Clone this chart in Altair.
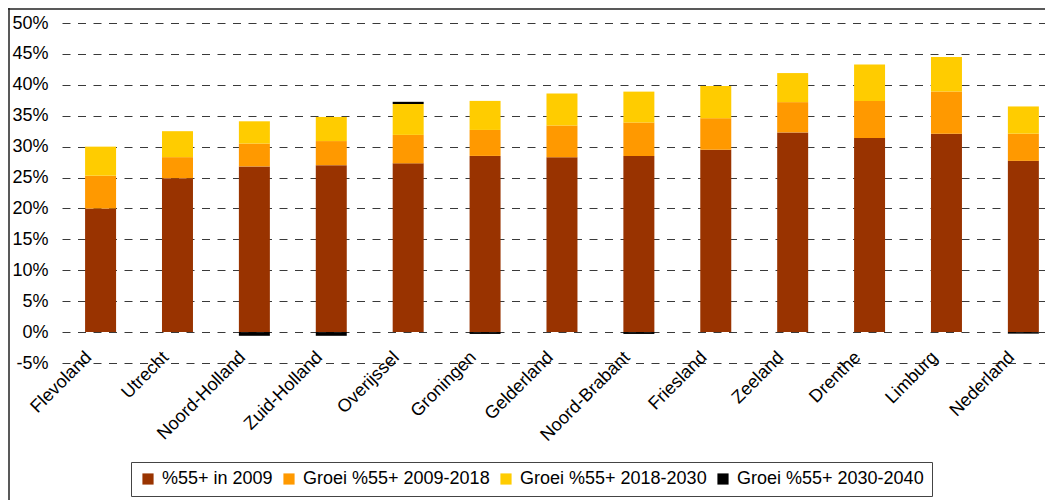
import altair as alt
import pandas as pd

provinces = ["Flevoland", "Utrecht", "Noord-Holland", "Zuid-Holland", "Overijssel",
             "Groningen", "Gelderland", "Noord-Brabant", "Friesland", "Zeeland",
             "Drenthe", "Limburg", "Nederland"]
series = ["%55+ in 2009", "Groei %55+ 2009-2018", "Groei %55+ 2018-2030", "Groei %55+ 2030-2040"]
colors = ["#993300", "#FF9900", "#FFCC00", "#000000"]

share_2009 = [20.0, 24.9, 26.8, 27.0, 27.3, 28.5, 28.3, 28.5, 29.5, 32.3, 31.4, 32.1, 27.7]
growth_2009_2018 = [5.3, 3.4, 3.7, 3.9, 4.6, 4.2, 5.1, 5.4, 5.1, 4.9, 6.0, 6.8, 4.4]
growth_2018_2030 = [4.7, 4.2, 3.6, 3.9, 5.0, 4.7, 5.2, 5.0, 5.2, 4.7, 5.9, 5.6, 4.4]
growth_2030_2040 = [0.0, 0.0, -0.6, -0.6, 0.35, -0.3, 0.0, -0.3, 0.0, 0.0, 0.0, 0.0, -0.25]

y_ticks = [-0.05, 0.0, 0.05, 0.10, 0.15, 0.20, 0.25, 0.30, 0.35, 0.40, 0.45, 0.50]

rows = []
for si, (name, vals) in enumerate(zip(series, [share_2009, growth_2009_2018, growth_2018_2030, growth_2030_2040])):
    for p, v in zip(provinces, vals):
        rows.append({"provincie": p, "reeks": name, "idx": si, "waarde": v / 100.0})
df = pd.DataFrame(rows)

bars = alt.Chart(df).mark_bar().encode(
    x=alt.X("provincie:N", sort=provinces, title=None,
            scale=alt.Scale(paddingInner=0.597, paddingOuter=0.19, align=0.79),
            axis=alt.Axis(labelAngle=-45, labelAlign="right", labelBaseline="alphabetic",
                          labelPadding=26, labelOffset=-8, offset=-31, domain=False, ticks=False,
                          grid=False, labelFontSize=18, labelColor="black", labelLimit=300)),
    y=alt.Y("waarde:Q", stack="zero", title=None,
            scale=alt.Scale(domain=[-0.05, 0.5], nice=False, zero=False),
            axis=alt.Axis(values=y_ticks, labelExpr="round(datum.value*100) + '%'",
                          domain=False, ticks=False, labelPadding=14, labelFontSize=18,
                          labelColor="black", grid=True, gridDash=[8, 7.5],
                          gridColor="#3a3a3a", gridWidth=1)),
    color=alt.Color("reeks:N", sort=series,
                    scale=alt.Scale(domain=series, range=colors),
                    legend=alt.Legend(title=None, orient="none", direction="horizontal",
                                      legendX=69, legendY=439, symbolType="square",
                                      symbolSize=125, symbolStrokeWidth=0, labelOffset=5,
                                      columnPadding=7, padding=8, labelFontSize=18,
                                      labelLimit=400,
                                      labelColor="black", strokeColor="#444444",
                                      fillColor="white")),
    order=alt.Order("idx:Q"),
)

border_df = pd.DataFrame({"k": [0]})
left_border = alt.Chart(border_df).mark_rule(color="#222222", strokeWidth=1.5).encode(
    x=alt.value(-53), y=alt.value(-15), y2=alt.value(480))
top_border = alt.Chart(border_df).mark_rule(color="#222222", strokeWidth=1.5).encode(
    x=alt.value(-54), x2=alt.value(990), y=alt.value(-14))

chart = alt.layer(bars, left_border, top_border).properties(
    width=983, height=340,
    autosize=alt.AutoSizeParams(type="none"),
    padding={"left": 54, "top": 15, "right": 0, "bottom": 137},
).configure(font="Liberation Sans").configure_view(stroke=None)

chart.save("out.html", embed_options={"renderer": "svg", "actions": False})
